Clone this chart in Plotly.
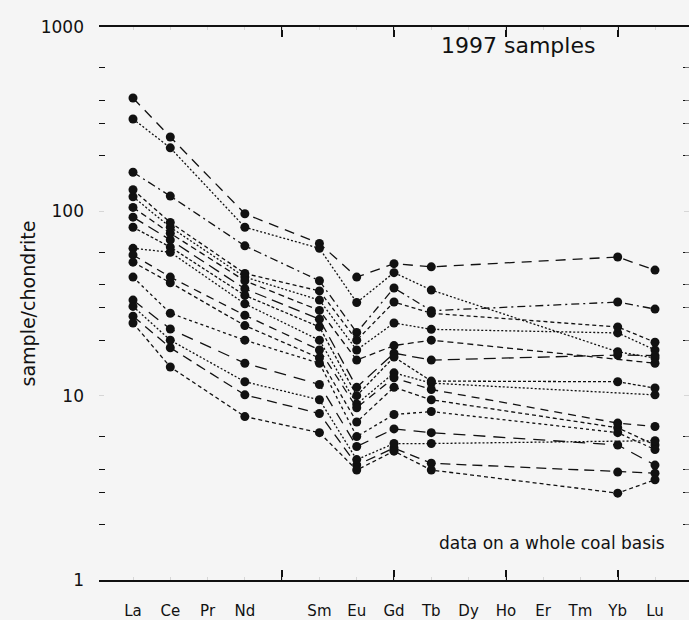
import plotly.graph_objects as go

# Rare-earth element order on the x axis (Pm slot kept empty, no label)
ELEMENTS = ["La", "Ce", "Pr", "Nd", "Pm", "Sm", "Eu", "Gd", "Tb",
            "Dy", "Ho", "Er", "Tm", "Yb", "Lu"]
TICK_LABELS = ["La", "Ce", "Pr", "Nd", "", "Sm", "Eu", "Gd", "Tb",
               "Dy", "Ho", "Er", "Tm", "Yb", "Lu"]

# Chondrite-normalised concentrations, one entry per sample (16 samples)
la = [412, 317, 163, 131, 120, 105, 93, 82, 63, 58, 53, 44, 33, 30.5, 27, 24.8]
ce = [253, 221, 121, 87, 82, 76, 70, 64, 60, 44, 41, 28, 23, 20, 18.2, 14.3]
nd = [97, 82, 65, 46, 44, 42, 38, 35, 31.5, 27.3, 24, 20, 15, 11.9, 10.1, 7.7]
sm = [67, 63, 42, 37, 33, 29, 26, 23.6, 20, 17.7, 16, 15, 11.5, 9.5, 8, 6.3]
eu = [44, 32, 22, 20, 17.7, 15.6, 11.1, 10, 9, 8.6, 7.2, 6, 5.3, 4.5, 4.2, 3.95]
gd = [52, 46.5, 38.4, 32.2, 24.8, 18.7, 17, 16.2, 13.3, 12.5, 11.1, 7.9, 6.6, 5.5, 5.2, 5.0]
tb = [50, 37.4, 28.9, 28, 22.9, 20, 15.6, 12, 11.7, 10.8, 9.5, 8.2, 6.3, 5.5, 4.3, 3.95]
yb = [56.5, 17.3, 32.2, 23.6, 21.9, None, 16.6, 11.9, None, 7.1, 6.7, 6.3, 5.4, None, 3.85, 2.96]
lu = [48, 16, 29.5, 19.5, 17.7, 15, 16.5, 11.0, 10.1, 6.8, 5.4, 5.1, 4.2, 5.7, 3.8, 3.5]

MEASURED = {"La": la, "Ce": ce, "Nd": nd, "Sm": sm, "Eu": eu,
            "Gd": gd, "Tb": tb, "Yb": yb, "Lu": lu}

# Line dash pattern per sample
DASHES = ["10px,7px", "2px,2px", "8px,4px,2px,4px", "4px,3px",
          "2px,2px", "6px,4px", "12px,6px", "3px,2px",
          "2px,2px", "8px,6px", "4px,3px", "3px,3px",
          "12px,8px", "2px,2px", "10px,6px", "4px,3px"]

INK = "#111111"
LIGHT = "#d6d6d6"
BG = "#f5f5f5"
FONT = "DejaVu Sans, Liberation Sans, Arial, sans-serif"

fig = go.Figure()

# Samples alternate between two overlaid axis pairs (same ranges):
# the first carries the heavy ticks, the second the element labels
# and the right-hand tick marks.
n_samples = len(la)
for i in range(n_samples):
    xs, ys = [], []
    for pos, el in enumerate(ELEMENTS):
        if el in MEASURED and MEASURED[el][i] is not None:
            xs.append(pos)
            ys.append(MEASURED[el][i])
    pair = ("x", "y") if i % 2 == 0 else ("x2", "y2")
    fig.add_trace(go.Scatter(
        x=xs, y=ys, mode="lines+markers", xaxis=pair[0], yaxis=pair[1],
        line=dict(color=INK, width=1.3, dash=DASHES[i % len(DASHES)]),
        marker=dict(color=INK, size=9, symbol="circle"),
        showlegend=False, hoverinfo="x+y",
    ))

x_range = [-0.912, 14.912]
y_range = [0, 3]
positions = list(range(len(ELEMENTS)))
heavy_x = [4, 7, 10, 13]

decades = [1, 10, 100, 1000]
dark_minor = [m * d for d in (1, 10, 100) for m in (2, 3, 4, 6)]

fig.update_layout(
    width=689, height=620,
    margin=dict(l=99, r=0, t=27, b=40),
    paper_bgcolor=BG, plot_bgcolor=BG,
    font=dict(family=FONT, color=INK, size=15),
    xaxis=dict(
        range=x_range, showgrid=False, zeroline=False,
        showline=True, linecolor=INK, linewidth=1.5, mirror="allticks",
        tickmode="array", tickvals=heavy_x, showticklabels=False,
        ticks="inside", ticklen=10, tickwidth=1.5, tickcolor=INK,
        minor=dict(tickmode="array", tickvals=[v + 1e-4 for v in heavy_x],
                   ticks="inside", ticklen=10, tickwidth=1.5, tickcolor=INK),
    ),
    xaxis2=dict(
        overlaying="x", anchor="y2", side="bottom", range=x_range,
        showgrid=False, zeroline=False, showline=False,
        tickmode="array", tickvals=positions, ticktext=TICK_LABELS,
        ticks="inside", ticklen=3, tickwidth=1, tickcolor=LIGHT,
        mirror="allticks", ticklabelstandoff=20,
        tickfont=dict(family=FONT, size=15, color=INK),
    ),
    yaxis=dict(
        type="log", range=y_range, showgrid=False, zeroline=False,
        showline=False, mirror="allticks",
        tickmode="array", tickvals=decades, ticktext=[str(d) for d in decades],
        ticks="inside", ticklen=5, tickwidth=1, tickcolor=LIGHT,
        ticklabelstandoff=14,
        tickfont=dict(family=FONT, size=17, color=INK),
        minor=dict(tickmode="array", tickvals=dark_minor, ticks="inside",
                   ticklen=6, tickwidth=1.4, tickcolor=INK),
        title=dict(text="sample/chondrite", standoff=0,
                   font=dict(family=FONT, size=19, color=INK)),
    ),
    yaxis2=dict(
        type="log", overlaying="y", anchor="x2", side="right", range=y_range,
        showgrid=False, zeroline=False, showline=False,
        tickmode="array", tickvals=dark_minor, showticklabels=False,
        ticks="inside", ticklen=4, tickwidth=1.2, tickcolor="#777777",
    ),
    annotations=[
        dict(text="1997 samples", xref="paper", yref="paper",
             x=0.71, y=0.967, xanchor="center", yanchor="middle",
             showarrow=False, font=dict(family=FONT, size=22, color=INK)),
        dict(text="data on a whole coal basis", xref="paper", yref="paper",
             x=0.768, y=0.067, xanchor="center", yanchor="middle",
             showarrow=False, font=dict(family=FONT, size=17, color=INK)),
    ],
)

fig.write_html("out.html")
